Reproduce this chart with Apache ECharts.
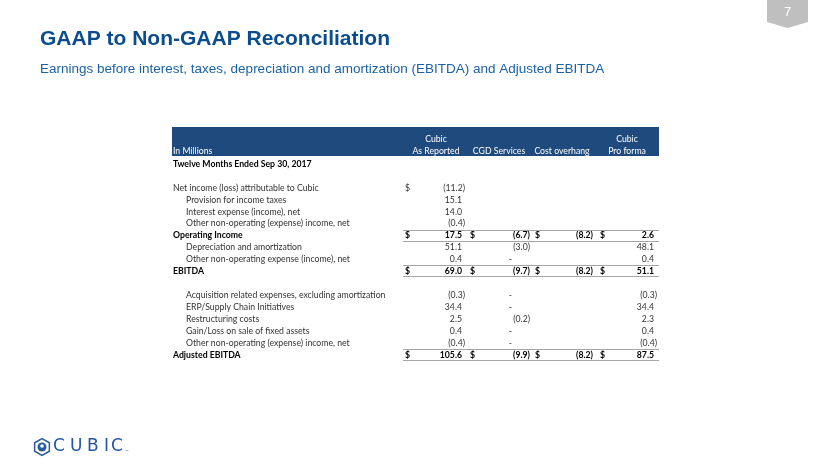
<!DOCTYPE html>
<html><head><meta charset="utf-8">
<script src="https://cdn.jsdelivr.net/npm/echarts@6/dist/echarts.min.js"></script>
<style>html,body{margin:0;padding:0;background:#fff}#c{width:830px;height:467px}</style>
</head><body><div id="c"></div>
<script>
// ---- content ----
const titleText = 'GAAP to Non-GAAP Reconciliation';
const subtitleText = 'Earnings before interest, taxes, depreciation and amortization (EBITDA) and Adjusted EBITDA';
const pageNumber = '7';
const unitLabel = 'In Millions';
const headerTop = ['Cubic', '', '', 'Cubic'];
const headerBottom = ['As Reported', 'CGD Services', 'Cost overhang', 'Pro forma'];
const rowLabels = [
  'Twelve Months Ended Sep 30, 2017', '',
  'Net income (loss) attributable to Cubic',
  'Provision for income taxes',
  'Interest expense (income), net',
  'Other non-operating (expense) income, net',
  'Operating Income',
  'Depreciation and amortization',
  'Other non-operating expense (income), net',
  'EBITDA', '',
  'Acquisition related expenses, excluding amortization',
  'ERP/Supply Chain Initiatives',
  'Restructuring costs',
  'Gain/Loss on sale of fixed assets',
  'Other non-operating (expense) income, net',
  'Adjusted EBITDA'
];
const rowKind = ['heading','blank','item','sub','sub','sub','total','sub','sub','total','blank','sub','sub','sub','sub','sub','total'];
const asReported   = [null,null,-11.2,15.1,14.0,-0.4,17.5,51.1,0.4,69.0,null,-0.3,34.4,2.5,0.4,-0.4,105.6];
const cgdServices  = [null,null,null,null,null,null,-6.7,-3.0,0,-9.7,null,0,0,-0.2,0,0,-9.9];
const costOverhang = [null,null,null,null,null,null,-8.2,null,null,-8.2,null,null,null,null,null,null,-8.2];
const proForma     = [null,null,null,null,null,null,2.6,48.1,0.4,51.1,null,-0.3,34.4,2.3,0.4,-0.4,87.5];
const logoLetters = ['C','U','B','I','C'];

// ---- layout ----
const columns = [asReported, cgdServices, costOverhang, proForma];
const colDollarX = [405, 470, 535, 600];
const colRightX = [465, 530, 593, 657];
const colCenterX = [436, 499, 562, 627];
const tableFont = 'Lato';
const tableSize = 8.7;

function fmt(v) {
  if (v === 0) return '-';
  if (v < 0) return '(' + Math.abs(v).toFixed(1) + ')';
  return v.toFixed(1);
}

const chart = echarts.init(document.getElementById('c'), null, {renderer: 'canvas'});

const option = {
  animation: false,
  backgroundColor: '#ffffff',
  title: [
    {text: titleText, left: 35, top: 24,
     textStyle: {fontFamily: 'Liberation Sans', fontWeight: 'bold', fontSize: 21, color: '#0b4d8c'}},
    {text: subtitleText, left: 35, top: 57,
     textStyle: {fontFamily: 'Liberation Sans', fontWeight: 'normal', fontSize: 13.5, color: '#1b62a5'}}
  ],
  grid: {left: 0, right: 0, top: 158, height: 203},
  xAxis: {type: 'value', min: 0, max: 830, show: false},
  yAxis: {type: 'category', inverse: true, show: false, data: rowLabels.map((_, i) => i)},
  graphic: (function () {
    const g = [];
    // page badge
    g.push({type: 'polygon', shape: {points: [[767,0],[808,0],[808,22],[787.5,28],[767,22]]},
            style: {fill: '#bfbfbf'}});
    g.push({type: 'text', x: 787.5, y: 12, style: {text: pageNumber, fill: '#ffffff', font: '13px Liberation Sans',
            align: 'center', verticalAlign: 'middle'}});
    // header band
    g.push({type: 'rect', shape: {x: 172, y: 127, width: 487, height: 29}, style: {fill: '#1f4a7d'}});
    g.push({type: 'text', x: 173, y: 151, style: {text: unitLabel, fill: '#ffffff', font: tableSize + 'px ' + tableFont,
            align: 'left', verticalAlign: 'middle'}});
    for (let c = 0; c < 4; c++) {
      if (headerTop[c]) g.push({type: 'text', x: colCenterX[c], y: 139, style: {text: headerTop[c], fill: '#ffffff',
            font: tableSize + 'px ' + tableFont, align: 'center', verticalAlign: 'middle'}});
      g.push({type: 'text', x: colCenterX[c], y: 151, style: {text: headerBottom[c], fill: '#ffffff',
            font: tableSize + 'px ' + tableFont, align: 'center', verticalAlign: 'middle'}});
    }
    // logo
    const cx = 42, cy = 447, r = 8.5;
    const hex = [];
    for (let k = 0; k < 6; k++) { const a = Math.PI / 6 + k * Math.PI / 3; hex.push([cx + r * Math.cos(a), cy + r * Math.sin(a)]); }
    g.push({type: 'polygon', shape: {points: hex}, style: {fill: '#ffffff', stroke: '#2a5b9c', lineWidth: 1.5}});
    g.push({type: 'circle', shape: {cx: cx, cy: cy, r: 4.5}, style: {fill: '#2a5b9c'}});
    g.push({type: 'circle', shape: {cx: cx, cy: cy - 1, r: 1.8}, style: {fill: '#ffffff'}});
    const lx = [53, 70, 87, 104, 111];
    logoLetters.forEach((ch, k) => g.push({type: 'text', x: lx[k], y: 447, style: {text: ch, fill: '#2356a0',
            font: '500 17px DejaVu Sans', align: 'left', verticalAlign: 'middle'}}));
    g.push({type: 'text', x: 125, y: 452, style: {text: '\u2122', fill: '#2356a0', font: '4px DejaVu Sans',
            align: 'left', verticalAlign: 'middle'}});
    return g;
  })(),
  series: [{
    type: 'custom',
    coordinateSystem: 'cartesian2d',
    encode: {x: 0, y: 1},
    data: rowLabels.map((_, i) => [0, i]),
    renderItem: function (params, api) {
      const row = api.value(1);
      const y = api.coord([0, row])[1];
      const kind = rowKind[row];
      const bold = (kind === 'heading' || kind === 'total');
      const font = (bold ? 'bold ' : '') + tableSize + 'px ' + tableFont;
      const color = bold ? '#000000' : '#333333';
      const children = [];
      if (rowLabels[row]) {
        const lx = api.coord([kind === 'sub' ? 186 : 173, row])[0];
        children.push({type: 'text', x: lx, y: y, style: {text: rowLabels[row], font: font, fill: color,
                       align: 'left', verticalAlign: 'middle'}});
      }
      for (let c = 0; c < 4; c++) {
        const v = columns[c][row];
        if (v === null || v === undefined) continue;
        const rx = api.coord([colRightX[c], row])[0];
        let tx = rx;
        if (v === 0) tx = rx - 18; else if (v > 0) tx = rx - 3;
        children.push({type: 'text', x: tx, y: y, style: {text: fmt(v), font: font, fill: color,
                       align: 'right', verticalAlign: 'middle'}});
        if (kind === 'total' || (kind === 'item' && c === 0)) {
          children.push({type: 'text', x: api.coord([colDollarX[c], row])[0], y: y, style: {text: '$', font: font,
                         fill: color, align: 'left', verticalAlign: 'middle'}});
        }
      }
      if (kind === 'total') {
        const x1 = api.coord([403, row])[0], x2 = api.coord([659, row])[0];
        const yt = Math.round(y - 6) + 0.5, yb = Math.round(y + 5) + 0.5;
        children.push({type: 'line', shape: {x1: x1, y1: yt, x2: x2, y2: yt}, style: {stroke: '#a6a6a6', lineWidth: 1}});
        children.push({type: 'line', shape: {x1: x1, y1: yb, x2: x2, y2: yb}, style: {stroke: '#a6a6a6', lineWidth: 1}});
      }
      return {type: 'group', children: children};
    }
  }]
};
chart.setOption(option);
</script>
</body></html>
